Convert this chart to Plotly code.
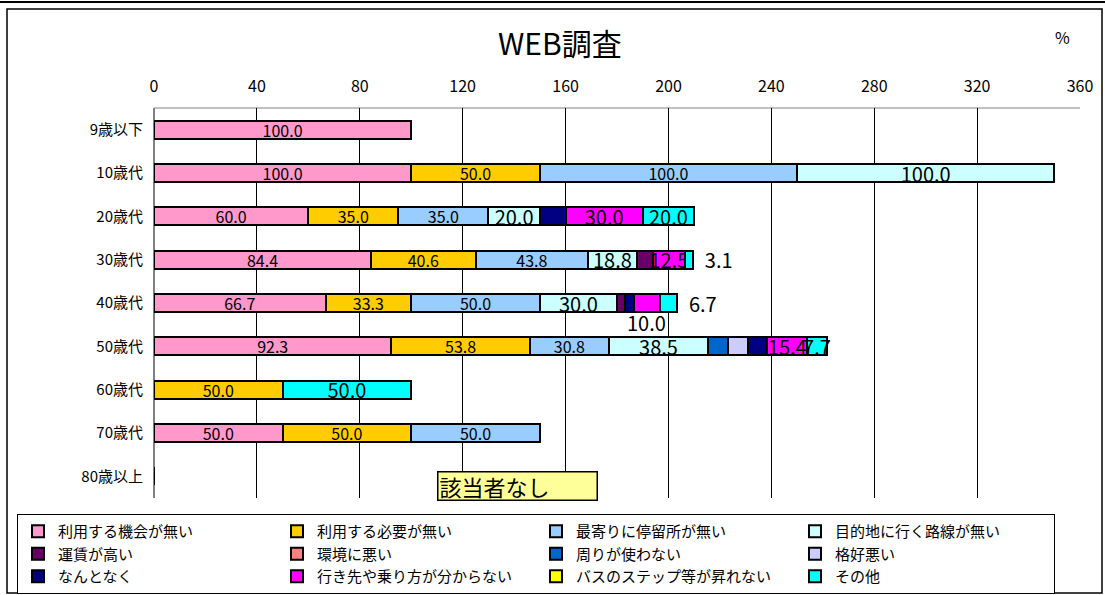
import plotly.graph_objects as go

# 年代
ages = ["9歳以下", "10歳代", "20歳代", "30歳代", "40歳代", "50歳代", "60歳代", "70歳代", "80歳以上"]

# 理由別の回答割合(%)
riyou_kikai = [100.0, 100.0, 60.0, 84.4, 66.7, 92.3, 0, 50.0, 0]
riyou_hitsuyou = [0, 50.0, 35.0, 40.6, 33.3, 53.8, 50.0, 50.0, 0]
teiryujo = [0, 100.0, 35.0, 43.8, 50.0, 30.8, 0, 50.0, 0]
rosen = [0, 100.0, 20.0, 18.8, 30.0, 38.5, 0, 0, 0]
unchin = [0, 0, 0, 6.3, 3.3, 0, 0, 0, 0]
kankyo = [0, 0, 0, 0, 0, 0, 0, 0, 0]
mawari = [0, 0, 0, 0, 0, 7.7, 0, 0, 0]
kakkou = [0, 0, 0, 0, 0, 7.7, 0, 0, 0]
nantonaku = [0, 0, 10.0, 0, 3.3, 7.7, 0, 0, 0]
ikisaki = [0, 0, 30.0, 12.5, 10.0, 15.4, 0, 0, 0]
step = [0, 0, 0, 0, 0, 0, 0, 0, 0]
sonota = [0, 0, 20.0, 3.1, 6.7, 7.7, 50.0, 0, 0]

x_ticks = list(range(0, 361, 40))

# (凡例名, 値, 色, ラベル文字サイズ / Noneはラベルなし)
series = [
    ("利用する機会が無い", riyou_kikai, "#FF99CC", 16),
    ("利用する必要が無い", riyou_hitsuyou, "#FFCC00", 16),
    ("最寄りに停留所が無い", teiryujo, "#99CCFF", 16),
    ("目的地に行く路線が無い", rosen, "#CCFFFF", 20),
    ("運賃が高い", unchin, "#660066", None),
    ("環境に悪い", kankyo, "#FF8080", None),
    ("周りが使わない", mawari, "#0066CC", None),
    ("格好悪い", kakkou, "#CCCCFF", None),
    ("なんとなく", nantonaku, "#000080", None),
    ("行き先や乗り方が分からない", ikisaki, "#FF00FF", 20),
    ("バスのステップ等が昇れない", step, "#FFFF00", None),
    ("その他", sonota, "#00FFFF", 20),
]

FONT = "Noto Sans CJK JP, Noto Sans, sans-serif"

# プロット領域(px)
L, R, T, B = 154, 1080, 108, 498


def px2paper(px, py):
    return (px - L) / (R - L), (B - py) / (B - T)


fig = go.Figure()

for name, vals, color, fsize in series:
    if fsize:
        text = [f"{v:.1f}" if v else "" for v in vals]
    else:
        text = ["" for v in vals]
    pos = ["inside"] * len(vals)
    if name == "その他":
        # 細いバーは外側にラベル
        pos = ["outside" if 0 < v < 7 else "inside" for v in vals]
        text = ["\u00a0\u00a0" + t if p == "outside" else t for t, p in zip(text, pos)]
    if name == "行き先や乗り方が分からない":
        text = [t if i != 4 else "" for i, t in enumerate(text)]
    fig.add_trace(
        go.Bar(
            name=name,
            y=ages,
            x=vals,
            orientation="h",
            marker=dict(color=color, line=dict(color="black", width=2)),
            text=text,
            textposition=pos,
            insidetextanchor="middle",
            textangle=0,
            constraintext="none",
            insidetextfont=dict(size=fsize or 13, color="black", family=FONT),
            outsidetextfont=dict(size=20, color="black", family=FONT),
            cliponaxis=False,
            hoverinfo="name+x",
        )
    )

# 40歳代の「行き先や乗り方が分からない」はバーの下にラベル
i40 = ages.index("40歳代")
left40 = sum(s[1][i40] for s in series[:9])
fig.add_annotation(
    x=left40 + ikisaki[i40] / 2,
    y=ages[i40],
    yshift=-19,
    text=f"{ikisaki[i40]:.1f}",
    showarrow=False,
    font=dict(size=20, color="black", family=FONT),
)

# 80歳以上
fig.add_annotation(
    x=110,
    y=ages[-1],
    xanchor="left",
    yshift=-10,
    text="該当者なし",
    showarrow=False,
    width=156,
    height=25,
    align="left",
    bgcolor="#FFFF99",
    bordercolor="black",
    borderwidth=1.5,
    borderpad=1,
    font=dict(size=22, color="black", family=FONT),
)

# タイトルと単位
tx, ty = px2paper(560, 42)
fig.add_annotation(x=tx, y=ty, xref="paper", yref="paper", xanchor="center", yanchor="middle",
                   text="WEB調査", showarrow=False,
                   font=dict(size=30, color="black", family=FONT))
ux, uy = px2paper(1062, 37)
fig.add_annotation(x=ux, y=uy, xref="paper", yref="paper", xanchor="center", yanchor="middle",
                   text="%", showarrow=False,
                   font=dict(size=16, color="black", family=FONT))

# 枠線
shapes = []
x0, y0 = px2paper(0, 2)
x1, y1 = px2paper(1105, 2)
shapes.append(dict(type="line", xref="paper", yref="paper", x0=x0, y0=y0, x1=x1, y1=y1,
                   line=dict(color="black", width=2)))
x0, y0 = px2paper(7, 9)
x1, y1 = px2paper(1102, 593)
shapes.append(dict(type="rect", xref="paper", yref="paper", x0=x0, y0=y0, x1=x1, y1=y1,
                   line=dict(color="black", width=1.5)))
x0, y0 = px2paper(L, T)
x1, y1 = px2paper(R, T)
shapes.append(dict(type="line", xref="paper", yref="paper", x0=x0, y0=y0, x1=x1, y1=y1,
                   line=dict(color="#808080", width=1), layer="below"))

lx, ly = px2paper(17, 514)

fig.update_layout(
    width=1105,
    height=595,
    margin=dict(l=L, r=1105 - R, t=T, b=595 - B, autoexpand=False),
    paper_bgcolor="white",
    plot_bgcolor="white",
    barmode="stack",
    bargap=0.58,
    font=dict(family=FONT, color="black"),
    shapes=shapes,
    showlegend=True,
    legend=dict(
        orientation="h",
        x=lx,
        y=ly,
        xanchor="left",
        yanchor="top",
        bordercolor="black",
        borderwidth=1,
        font=dict(size=15, family=FONT),
        entrywidth=214,
        traceorder="normal",
        itemclick=False,
        tracegroupgap=0,
    ),
    xaxis=dict(
        side="top",
        range=[0, 360],
        tickvals=x_ticks,
        showgrid=True,
        gridcolor="black",
        gridwidth=1,
        zeroline=True,
        zerolinecolor="#808080",
        zerolinewidth=1.5,
        tickfont=dict(size=16, family=FONT),
        ticks="",
        ticklabelstandoff=12,
        automargin=False,
        fixedrange=True,
    ),
    yaxis=dict(
        type="category",
        categoryorder="array",
        categoryarray=ages,
        autorange="reversed",
        tickfont=dict(size=15, family=FONT),
        ticks="",
        ticklabelstandoff=10,
        showgrid=False,
        automargin=False,
        fixedrange=True,
    ),
)

# ページ本体の余白を消す
fig.write_html("out.html", config={"displayModeBar": False},
               post_script="document.body.style.margin='0';")
